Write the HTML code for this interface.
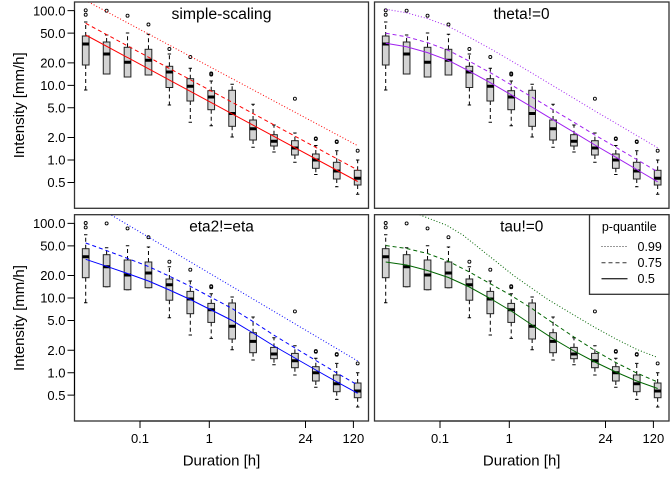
<!DOCTYPE html>
<html><head><meta charset="utf-8"><style>
html,body{margin:0;padding:0;background:#fff;}
svg{display:block;font-family:"Liberation Sans",Arial,Helvetica,sans-serif;}
.w{fill:none;stroke:#000;stroke-width:1;stroke-dasharray:4 3;}
.c{fill:none;stroke:#000;stroke-width:1;}
.b{fill:#d3d3d3;stroke:#222;stroke-width:1;}
.m{fill:none;stroke:#000;stroke-width:3;}
.o{fill:none;stroke:#000;stroke-width:0.9;}
.fr{fill:none;stroke:#333;stroke-width:1.3;}
.ax{fill:none;stroke:#000;stroke-width:1;}
.tk{font-size:13px;fill:#000;}
.ttl{font-size:15.4px;fill:#000;}
.lab{font-size:15px;fill:#000;}
.lg{font-size:12.5px;fill:#000;}
</style></head><body>
<svg width="672" height="480" viewBox="0 0 672 480" xmlns="http://www.w3.org/2000/svg">
<rect x="0" y="0" width="672" height="480" fill="#fff"/>
<defs>
<clipPath id="cTL"><rect x="74.5" y="2" width="294" height="206.3"/></clipPath>
<clipPath id="cTR"><rect x="374.5" y="2" width="294.5" height="206.3"/></clipPath>
<clipPath id="cBL"><rect x="74.5" y="214.7" width="294" height="206.3"/></clipPath>
<clipPath id="cBR"><rect x="374.5" y="214.7" width="294.5" height="206.3"/></clipPath>
<g id="bx">
<path class="w" d="M85.7,36V22 M85.7,65V90 M106.62,42V35 M127.54,47.3V33 M148.46,49.3V34.3 M169.38,66.3V54 M169.38,87.5V105 M190.3,78.7V68.3 M190.3,101V122.3 M211.22,90.7V81 M211.22,109.7V125.7 M232.14,90.3V84.3 M232.14,126.3V137 M253.06,120V104.3 M253.06,140V147.3 M273.98,134.7V125 M273.98,146V152 M294.9,140.7V133 M294.9,155V162.3 M315.82,154V145.5 M315.82,168.3V174.5 M336.74,162.3V150.7 M336.74,179V186.7 M357.66,170.3V160 M357.66,185V194.3"/>
<path class="c" d="M84,22h3.4 M84,90h3.4 M104.92,35h3.4 M104.92,74h3.4 M125.84,33h3.4 M125.84,77h3.4 M146.76,34.3h3.4 M146.76,75h3.4 M167.68,54h3.4 M167.68,105h3.4 M188.6,68.3h3.4 M188.6,122.3h3.4 M209.52,81h3.4 M209.52,125.7h3.4 M230.44,84.3h3.4 M230.44,137h3.4 M251.36,104.3h3.4 M251.36,147.3h3.4 M272.28,125h3.4 M272.28,152h3.4 M293.2,133h3.4 M293.2,162.3h3.4 M314.12,145.5h3.4 M314.12,174.5h3.4 M335.04,150.7h3.4 M335.04,186.7h3.4 M355.96,160h3.4 M355.96,194.3h3.4"/>
<rect class="b" x="82.35" y="36" width="6.7" height="29"/>
<rect class="b" x="103.27" y="42" width="6.7" height="32"/>
<rect class="b" x="124.19" y="47.3" width="6.7" height="29.7"/>
<rect class="b" x="145.11" y="49.3" width="6.7" height="25.7"/>
<rect class="b" x="166.03" y="66.3" width="6.7" height="21.2"/>
<rect class="b" x="186.95" y="78.7" width="6.7" height="22.3"/>
<rect class="b" x="207.87" y="90.7" width="6.7" height="19"/>
<rect class="b" x="228.79" y="90.3" width="6.7" height="36"/>
<rect class="b" x="249.71" y="120" width="6.7" height="20"/>
<rect class="b" x="270.63" y="134.7" width="6.7" height="11.3"/>
<rect class="b" x="291.55" y="140.7" width="6.7" height="14.3"/>
<rect class="b" x="312.47" y="154" width="6.7" height="14.3"/>
<rect class="b" x="333.39" y="162.3" width="6.7" height="16.7"/>
<rect class="b" x="354.31" y="170.3" width="6.7" height="14.7"/>
<path class="m" d="M82.35,44h6.7 M103.27,54h6.7 M124.19,62.3h6.7 M145.11,60.3h6.7 M166.03,72h6.7 M186.95,86.3h6.7 M207.87,97h6.7 M228.79,113.5h6.7 M249.71,128.7h6.7 M270.63,141.3h6.7 M291.55,148h6.7 M312.47,160h6.7 M333.39,171h6.7 M354.31,178.3h6.7"/>
<g class="o">
<circle cx="85.7" cy="10.3" r="1.5"/><circle cx="85.7" cy="14.7" r="1.5"/>
<circle cx="106.62" cy="10.7" r="1.5"/><circle cx="127.54" cy="15.7" r="1.5"/>
<circle cx="148.46" cy="24.5" r="1.5"/><circle cx="169.38" cy="49" r="1.5"/>
<circle cx="190.3" cy="57" r="1.5"/><circle cx="211.22" cy="73.5" r="1.5"/><circle cx="211.22" cy="74.5" r="1.5"/>
<circle cx="294.9" cy="98.7" r="1.5"/><circle cx="315.82" cy="138.4" r="1.5"/><circle cx="315.82" cy="139" r="1.5"/>
<circle cx="336.74" cy="141.4" r="1.5"/><circle cx="336.74" cy="142" r="1.5"/><circle cx="357.66" cy="150.7" r="1.5"/>
</g>
</g>
<g id="yax">
<path class="ax" d="M74.5,10.66V182.48 M67.5,10.66H74.5 M67.5,33.13H74.5 M67.5,62.85H74.5 M67.5,85.33H74.5 M67.5,107.81H74.5 M67.5,137.52H74.5 M67.5,160H74.5 M67.5,182.48H74.5"/>
</g>
<g id="xax">
<path class="ax" d="M140,421H353.4 M140,421V428 M209.3,421V428 M305.5,421V428 M353.4,421V428"/>
</g>
</defs>

<!-- boxes in 4 panels -->
<use href="#bx"/>
<use href="#bx" transform="translate(300,0)"/>
<use href="#bx" transform="translate(0,212.7)"/>
<use href="#bx" transform="translate(300,212.7)"/>

<!-- top-left red -->
<g clip-path="url(#cTL)" fill="none" stroke="#ff0000" stroke-width="1">
<path d="M85.7,35L357.7,181.5"/>
<path d="M85.7,23.3L357.7,170" stroke-dasharray="4 3"/>
<path d="M85.7,0.5L357.7,145.7" stroke-dasharray="1 2"/>
</g>

<!-- top-right purple -->
<g clip-path="url(#cTR)" fill="none" stroke="#a020f0" stroke-width="1">
<path d="M385.7,43.2L406.62,46.8L427.54,52.6L448.46,60.4L469.38,71.2L490.3,82.7L511.22,94.8L532.14,107.2L553.06,119.8L573.98,132.3L594.9,145L615.82,157.2L636.74,169.5L657.66,181.8"/>
<path stroke-dasharray="4 3" d="M385.7,33.2L406.62,36.8L427.54,42.6L448.46,50.4L469.38,61.2L490.3,72.7L511.22,84.8L532.14,97.2L553.06,109.8L573.98,122.3L594.9,135L615.82,147.2L636.74,159.5L657.66,171.8"/>
<path stroke-dasharray="1 2" d="M385.7,9.2L406.62,12.8L427.54,18.6L448.46,26.4L469.38,37.2L490.3,48.7L511.22,60.8L532.14,73.2L553.06,85.8L573.98,98.3L594.9,111L615.82,123.2L636.74,135.5L657.66,147.8"/>
</g>

<!-- bottom-left blue -->
<g clip-path="url(#cBL)" fill="none" stroke="#0000ff" stroke-width="1">
<path d="M85.7,259.3L106.62,266.3L127.54,273.5L148.46,281L169.38,290L190.3,299.5L211.22,310L232.14,320.5L253.06,333L273.98,346L294.9,358L315.82,370L336.74,381.8L357.66,393.3"/>
<path stroke-dasharray="4 3" d="M85.7,243L106.62,250.6L127.54,258.4L148.46,266.5L169.38,276.2L190.3,286.3L211.22,297.4L232.14,308.5L253.06,321.6L273.98,335.2L294.9,347.9L315.82,360.5L336.74,372.9L357.66,385"/>
<path stroke-dasharray="1 2" d="M85.7,199.9L357.7,361"/>
</g>

<!-- bottom-right green -->
<g clip-path="url(#cBR)" fill="none" stroke="#006400" stroke-width="1">
<path d="M385.7,262L406.62,265L427.54,270.5L448.46,277.5L469.38,287L490.3,298.5L511.22,311L532.14,325L553.06,338.7L573.98,351L594.9,362L615.82,372L636.74,381L657.66,388.5"/>
<path stroke-dasharray="4 3" d="M385.7,245.5L406.62,248.5L427.54,253.5L448.46,261.3L469.38,272L490.3,283.7L511.22,295.5L532.14,308.7L553.06,323L573.98,337L594.9,350.5L615.82,362.5L636.74,373L657.66,382"/>
<path stroke-dasharray="1 2" d="M385.7,203L400,207.5L416.7,213.7L446.7,225.3L463.3,235.3L480,248.7L496.7,262L513.3,275.3L530,287L546.7,298.7L563.3,308.7L580,318.7L595,327.5L616,339L637,349.5L657.7,357.5"/>
</g>

<!-- frames -->
<rect class="fr" x="74.5" y="2" width="294" height="206.3"/>
<rect class="fr" x="374.5" y="2" width="294.5" height="206.3"/>
<rect class="fr" x="74.5" y="214.7" width="294" height="206.3"/>
<rect class="fr" x="374.5" y="214.7" width="294.5" height="206.3"/>

<!-- axes -->
<use href="#yax"/>
<use href="#yax" transform="translate(0,212.7)"/>
<use href="#xax"/>
<use href="#xax" transform="translate(300,0)"/>

<!-- y tick labels top -->
<g class="tk" text-anchor="end">
<text x="65.5" y="15.3">100.0</text>
<text x="65.5" y="37.8">50.0</text>
<text x="65.5" y="67.5">20.0</text>
<text x="65.5" y="90">10.0</text>
<text x="65.5" y="112.5">5.0</text>
<text x="65.5" y="142.2">2.0</text>
<text x="65.5" y="164.7">1.0</text>
<text x="65.5" y="187.2">0.5</text>
<text x="65.5" y="228">100.0</text>
<text x="65.5" y="250.5">50.0</text>
<text x="65.5" y="280.2">20.0</text>
<text x="65.5" y="302.7">10.0</text>
<text x="65.5" y="325.2">5.0</text>
<text x="65.5" y="354.9">2.0</text>
<text x="65.5" y="377.4">1.0</text>
<text x="65.5" y="399.9">0.5</text>
</g>

<!-- x tick labels -->
<g class="tk" text-anchor="middle">
<text x="140" y="443">0.1</text>
<text x="209.3" y="443">1</text>
<text x="305.5" y="443">24</text>
<text x="353.4" y="443">120</text>
<text x="440" y="443">0.1</text>
<text x="509.3" y="443">1</text>
<text x="605.5" y="443">24</text>
<text x="653.4" y="443">120</text>
</g>

<!-- axis titles -->
<text class="lab" x="221.5" y="465.5" text-anchor="middle">Duration [h]</text>
<text class="lab" x="521.7" y="465.5" text-anchor="middle">Duration [h]</text>
<text class="lab" text-anchor="middle" transform="translate(24,105.3) rotate(-90)">Intensity [mm/h]</text>
<text class="lab" text-anchor="middle" transform="translate(24,318) rotate(-90)">Intensity [mm/h]</text>

<!-- panel titles -->
<text class="ttl" x="221.5" y="19" text-anchor="middle" textLength="100" lengthAdjust="spacingAndGlyphs">simple-scaling</text>
<text class="ttl" x="521.5" y="19" text-anchor="middle">theta!=0</text>
<text class="ttl" x="221.5" y="231.7" text-anchor="middle">eta2!=eta</text>
<text class="ttl" x="521.7" y="231.7" text-anchor="middle">tau!=0</text>

<!-- legend -->
<rect x="589.5" y="214.7" width="79.5" height="79.6" fill="#fff" stroke="#333" stroke-width="1.3"/>
<text class="lg" x="629.3" y="231" text-anchor="middle">p-quantile</text>
<g fill="none" stroke="#333" stroke-width="1">
<path d="M601.5,246.5H627.5" stroke-dasharray="1 2"/>
<path d="M601.5,262.7H627.5" stroke-dasharray="4 3"/>
<path d="M601.5,278.7H627.5" stroke-width="1.4"/>
</g>
<text class="lg" x="637.5" y="251">0.99</text>
<text class="lg" x="637.5" y="267.2">0.75</text>
<text class="lg" x="637.5" y="283.2">0.5</text>
</svg>
</body></html>
